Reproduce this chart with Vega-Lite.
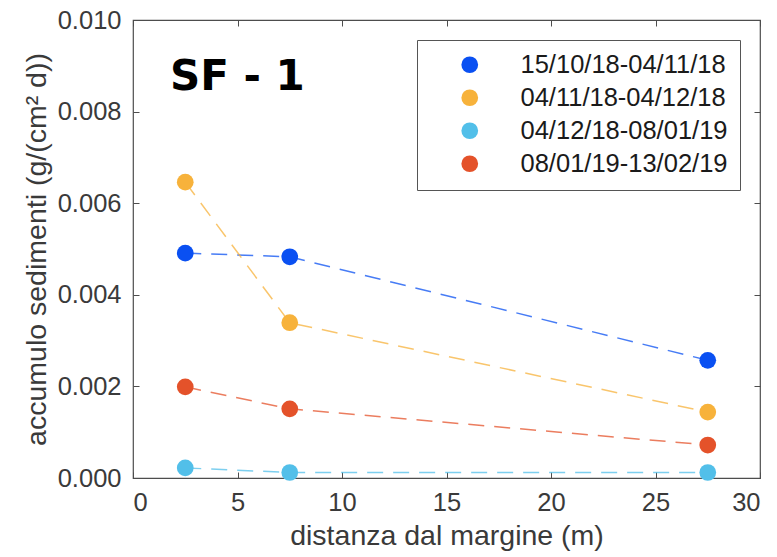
{
  "$schema": "https://vega.github.io/schema/vega-lite/v6.json",
  "width": 627,
  "height": 458,
  "autosize": "none",
  "padding": {"left": 133, "top": 20, "right": 17, "bottom": 79},
  "background": "white",
  "config": {
    "font": "Liberation Sans",
    "view": {"stroke": "#4d4d4d", "strokeWidth": 1.2},
    "axis": {"labelFont": "Liberation Sans", "titleFont": "Liberation Sans", "labelColor": "#3a3a3a", "titleColor": "#3a3a3a", "labelFontSize": 25.5, "titleFontSize": 28.5, "titleFontWeight": "normal", "grid": false, "domain": false, "tickColor": "#4d4d4d", "tickSize": -6}
  },
  "data": {
    "values": [
      {"periodo": "15/10/18-04/11/18", "distanza": 2.5, "accumulo": 0.00491},
      {"periodo": "15/10/18-04/11/18", "distanza": 7.5, "accumulo": 0.00483},
      {"periodo": "15/10/18-04/11/18", "distanza": 27.5, "accumulo": 0.00257},
      {"periodo": "04/11/18-04/12/18", "distanza": 2.5, "accumulo": 0.00646},
      {"periodo": "04/11/18-04/12/18", "distanza": 7.5, "accumulo": 0.00339},
      {"periodo": "04/11/18-04/12/18", "distanza": 27.5, "accumulo": 0.00144},
      {"periodo": "04/12/18-08/01/19", "distanza": 2.5, "accumulo": 0.00022},
      {"periodo": "04/12/18-08/01/19", "distanza": 7.5, "accumulo": 0.00012},
      {"periodo": "04/12/18-08/01/19", "distanza": 27.5, "accumulo": 0.00012},
      {"periodo": "08/01/19-13/02/19", "distanza": 2.5, "accumulo": 0.00199},
      {"periodo": "08/01/19-13/02/19", "distanza": 7.5, "accumulo": 0.00151},
      {"periodo": "08/01/19-13/02/19", "distanza": 27.5, "accumulo": 0.00072}
    ]
  },
  "resolve": {"axis": {"x": "independent", "y": "independent"}},
  "layer": [
    {
      "mark": {"type": "line", "strokeDash": [16, 10], "strokeWidth": 1.5, "strokeOpacity": 0.75},
      "encoding": {
        "x": {"field": "distanza", "type": "quantitative", "scale": {"domain": [0, 30], "nice": false},
          "axis": {"orient": "bottom", "values": [0, 5, 10, 15, 20, 25, 30], "title": "distanza dal margine (m)", "labelPadding": 18, "titlePadding": 6}},
        "y": {"field": "accumulo", "type": "quantitative", "scale": {"domain": [0, 0.01], "nice": false},
          "axis": {"orient": "left", "values": [0, 0.002, 0.004, 0.006, 0.008, 0.01], "format": ".3f", "title": "accumulo sedimenti (g/(cm² d))", "labelPadding": 18, "titlePadding": 6}},
        "color": {"field": "periodo", "type": "nominal",
          "scale": {"domain": ["15/10/18-04/11/18", "04/11/18-04/12/18", "04/12/18-08/01/19", "08/01/19-13/02/19"], "range": ["#0a50f2", "#f7b23b", "#52bfe9", "#e4522a"]}}
      }
    },
    {
      "mark": {"type": "circle", "size": 280, "opacity": 1},
      "encoding": {
        "x": {"field": "distanza", "type": "quantitative", "axis": {"orient": "top", "values": [0, 5, 10, 15, 20, 25, 30], "labels": false, "title": null}},
        "y": {"field": "accumulo", "type": "quantitative", "axis": {"orient": "right", "values": [0, 0.002, 0.004, 0.006, 0.008, 0.01], "labels": false, "title": null}},
        "color": {"field": "periodo", "type": "nominal",
          "legend": {"title": null, "orient": "top-right", "offset": 20, "padding": 12, "symbolOffset": 28, "labelOffset": 38, "labelFontSize": 25.5, "labelFont": "Liberation Sans", "labelColor": "#1a1a1a", "symbolType": "circle", "symbolSize": 280, "symbolStrokeWidth": 0, "symbolOpacity": 1, "symbolDash": [], "rowPadding": 6, "labelLimit": 400, "strokeColor": "#555", "fillColor": "white",
            "encode": {"symbols": {"update": {"opacity": {"value": 1}, "fillOpacity": {"value": 1}, "strokeWidth": {"value": 0}}}}}}
      }
    },
    {
      "data": {"values": [{"etichetta": "SF - 1", "x": 1.77, "y": 0.00847}]},
      "mark": {"type": "text", "fontSize": 42, "fontWeight": "bold", "align": "left", "baseline": "alphabetic", "color": "#000", "font": "DejaVu Sans"},
      "encoding": {
        "text": {"field": "etichetta"},
        "x": {"field": "x", "type": "quantitative", "axis": null},
        "y": {"field": "y", "type": "quantitative", "axis": null}
      }
    }
  ]
}
